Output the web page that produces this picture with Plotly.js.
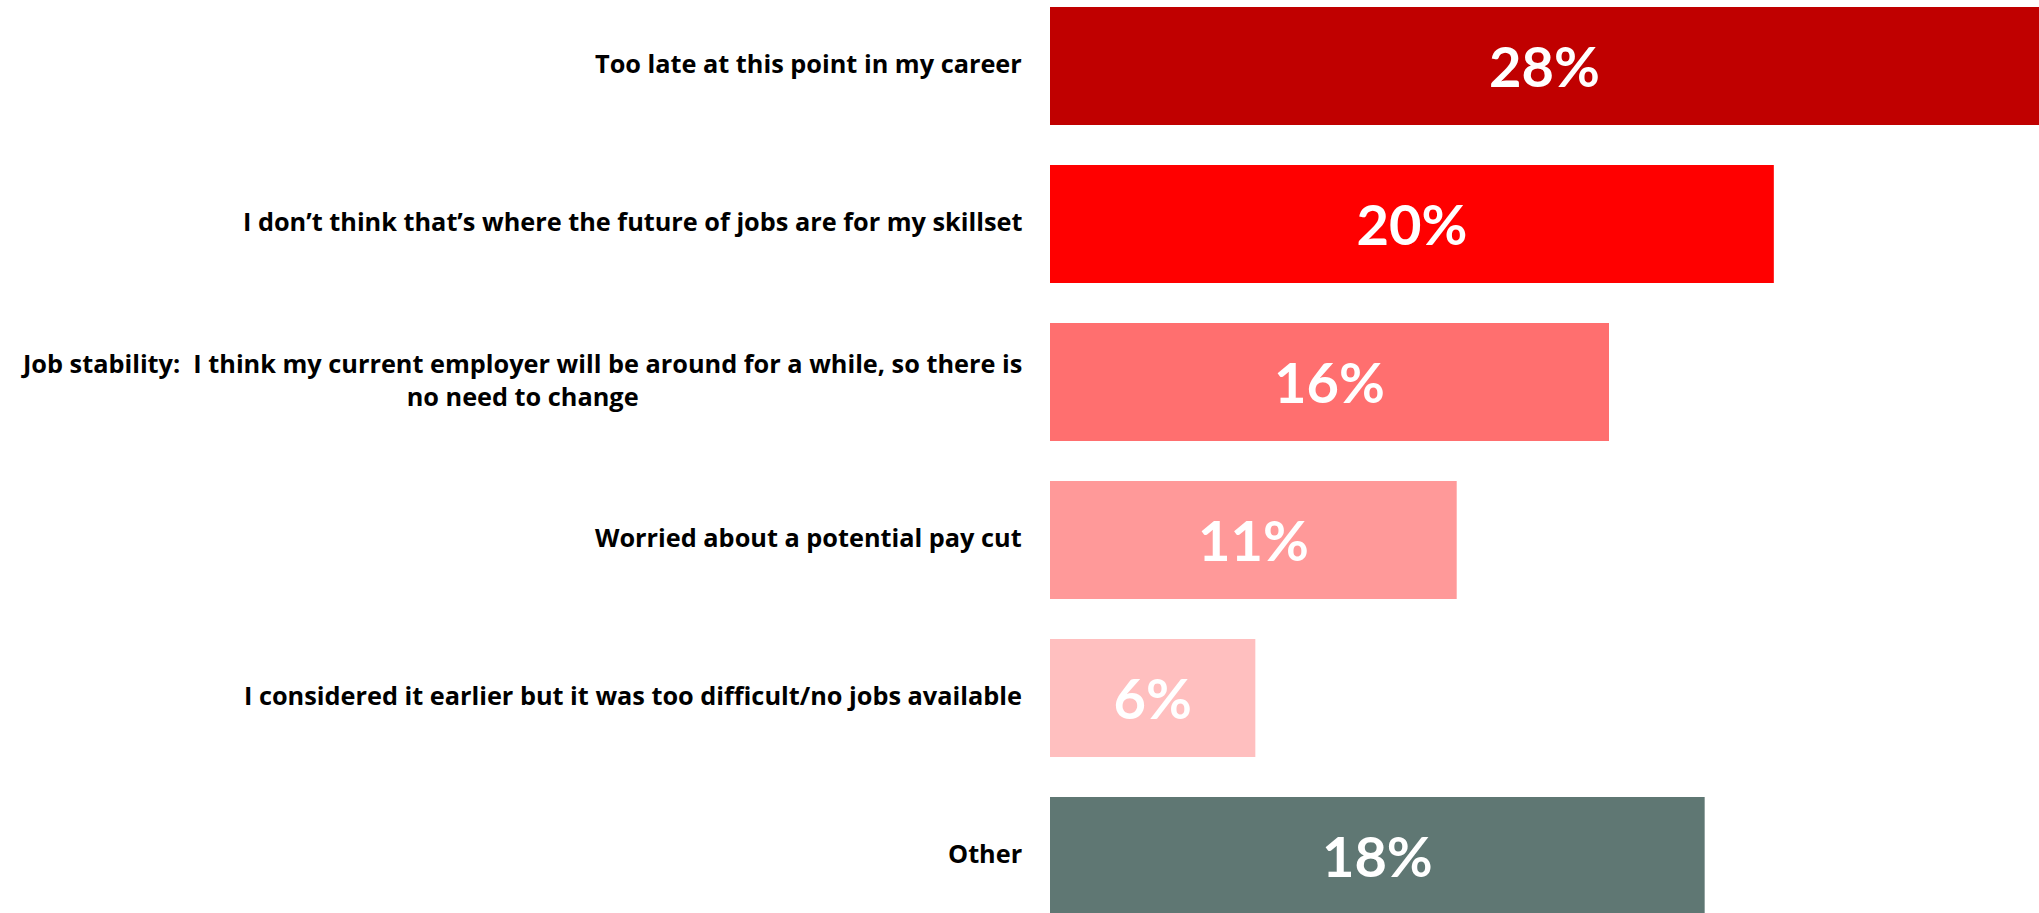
<!DOCTYPE html>
<html>
<head>
<meta charset="utf-8">
<script src="https://cdn.plot.ly/plotly-3.0.1.min.js"></script>
<style>
  html, body { margin: 0; padding: 0; background: #ffffff; overflow: hidden; }
  #chart { width: 2039px; height: 913px; }
</style>
</head>
<body>
<div id="chart"></div>
<script>
// Reasons (top to bottom)
const categories = [
  "Too late at this point in my career",
  "I don\u2019t think that\u2019s where the future of jobs are for my skillset",
  "Job stability:\u00a0 I think my current employer will be around for a while, so there is<br>no need to change",
  "Worried about a potential pay cut",
  "I considered it earlier but it was too difficult/no jobs available",
  "Other"
];
// Bar lengths (percent)
const shares = [27.6, 20.2, 15.6, 11.35, 5.73, 18.27];
// Printed labels
const shareLabels = ["28%", "20%", "16%", "11%", "6%", "18%"];
const barColors = ["#C00000", "#FF0000", "#FF6F6F", "#FF9999", "#FFBFBF", "#5F7773"];

const trace = {
  type: "bar",
  orientation: "h",
  y: categories,
  x: shares,
  text: shareLabels,
  texttemplate: "%{text}",
  textposition: "inside",
  insidetextanchor: "middle",
  constraintext: "none",
  textfont: { family: "Lato, 'Open Sans', sans-serif", size: 56, color: "#ffffff", weight: 700 },
  marker: { color: barColors, line: { width: 0 } },
  hoverinfo: "skip"
};

const annotations = categories.map(function (c) {
  return {
    xref: "paper", yref: "y",
    x: 0, y: c,
    xanchor: "right", yanchor: "middle",
    xshift: -26,
    yshift: 3,
    align: "center",
    showarrow: false,
    text: c,
    font: { family: "'Open Sans', Lato, sans-serif", size: 25.3, color: "#000000", weight: 700 }
  };
});

const layout = {
  width: 2039,
  height: 913,
  margin: { l: 1050, r: 0, t: 0, b: 0, pad: 0 },
  paper_bgcolor: "#ffffff",
  plot_bgcolor: "#ffffff",
  showlegend: false,
  bargap: 0.253,
  xaxis: { range: [0, 27.6], visible: false, fixedrange: true },
  yaxis: {
    type: "category",
    range: [5.3608, -0.4177],
    visible: false,
    fixedrange: true
  },
  annotations: annotations
};

Plotly.newPlot("chart", [trace], layout, { displayModeBar: false, staticPlot: true });
</script>
</body>
</html>
